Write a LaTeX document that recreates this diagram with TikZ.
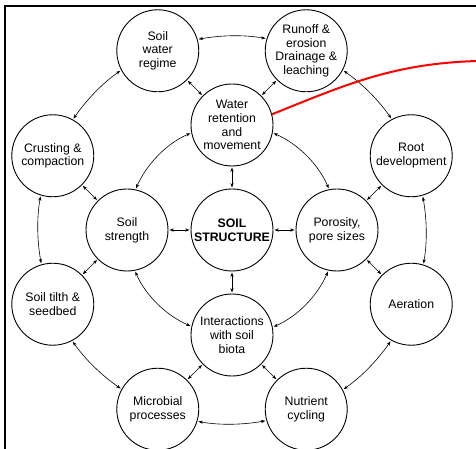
\documentclass[tikz,border=0pt]{standalone}
\usepackage{fontspec}
\setmainfont{Liberation Sans}
\usetikzlibrary{arrows.meta}
\begin{document}
\begin{tikzpicture}[x=1pt,y=1pt,
  bub/.style={circle,draw,line width=0.9pt,minimum size=82pt,inner sep=0pt,align=center,font=\fontsize{12.3}{13.8}\selectfont},
  link/.style={{Stealth[length=4.5pt,width=3.2pt]}-{Stealth[length=4.5pt,width=3.2pt]},line width=0.6pt,shorten <=1pt,shorten >=1pt},
  ringlink/.style={link,looseness=0.87},
  redline/.style={draw=red,line width=2pt}]
\useasboundingbox (-232,-219) rectangle (244,230);
\draw[line width=1.8pt] (-227,-219) -- (-227,224) -- (244,224);

\node[bub] (sw) at (112.5:194) {Soil\\water\\regime};
\node[bub] (ro) at (67.5:194) {Runoff \&\\erosion\\Drainage \&\\leaching};
\node[bub] (rd) at (22.5:194) {Root\\development};
\node[bub] (ae) at (-22.5:194) {Aeration};
\node[bub] (nu) at (-67.5:194) {Nutrient\\cycling};
\node[bub] (mi) at (-112.5:194) {Microbial\\processes};
\node[bub] (ti) at (202.5:194) {Soil tilth \&\\seedbed};
\node[bub] (cr) at (157.5:194) {Crusting \&\\compaction};
\node[bub] (wr) at (90:105) {Water\\retention\\and\\movement};
\node[bub] (ss) at (180:105) {Soil\\strength};
\node[bub] (st) at (0,0) {\textbf{SOIL}\\\textbf{STRUCTURE}};
\node[bub] (po) at (0:105) {Porosity,\\pore sizes};
\node[bub] (ib) at (270:105) {Interactions\\with soil\\biota};

% outer ring arcs
\draw[ringlink] (rd.118.7) to[out=124.9,in=-34.9] (ro.-28.7);
\draw[ringlink] (ro.163.7) to[out=169.9,in=10.1] (sw.16.3);
\draw[ringlink] (sw.208.7) to[out=214.9,in=55.1] (cr.61.3);
\draw[ringlink] (cr.253.7) to[out=259.9,in=100.1] (ti.106.3);
\draw[ringlink] (ti.298.7) to[out=304.9,in=145.1] (mi.151.3);
\draw[ringlink] (mi.343.7) to[out=349.9,in=190.1] (nu.196.3);
\draw[ringlink] (nu.28.7) to[out=34.9,in=235.1] (ae.241.3);
\draw[ringlink] (ae.73.7) to[out=79.9,in=280.1] (rd.286.3);

% inner ring arcs
\draw[ringlink] (po.101.5) to[out=113.1,in=-23.1] (wr.-11.5);
\draw[ringlink] (wr.191.5) to[out=203.1,in=66.9] (ss.78.5);
\draw[ringlink] (ss.281.5) to[out=293.1,in=156.9] (ib.168.5);
\draw[ringlink] (ib.11.5) to[out=23.1,in=246.9] (po.258.5);

% straight links
\draw[link] (st) -- (wr);
\draw[link] (st) -- (ss);
\draw[link] (st) -- (po);
\draw[link] (st) -- (ib);
\draw[link] (sw) -- (wr);
\draw[link] (ro) -- (wr);
\draw[link] (cr) -- (ss);
\draw[link] (ti) -- (ss);
\draw[link] (rd) -- (po);
\draw[link] (ae) -- (po);
\draw[link] (mi) -- (ib);
\draw[link] (nu) -- (ib);

% red pointer
\coordinate (redend) at (244,169);
\draw[redline] (wr.15) to[out=22,in=182] (redend);
\end{tikzpicture}
\end{document}
